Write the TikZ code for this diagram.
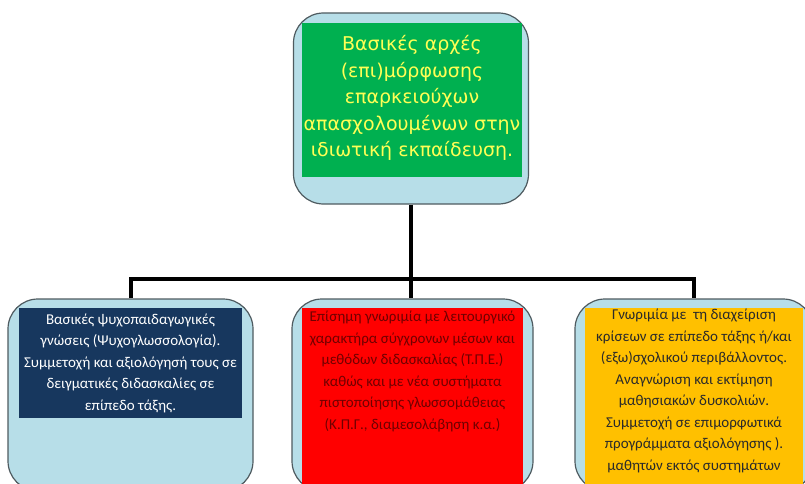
\documentclass[tikz,border=0pt]{standalone}
\usepackage{fontspec}
\setmainfont{Carlito}
\newfontfamily\topfont{DejaVu Sans}
\definecolor{outerfill}{HTML}{B7DEE8}
\definecolor{outerline}{HTML}{4F5B60}
\definecolor{topgreen}{HTML}{00B050}
\definecolor{topyellow}{HTML}{FFFF55}
\definecolor{navy}{HTML}{17375E}
\definecolor{boxred}{HTML}{FF0000}
\definecolor{darkredtext}{HTML}{700000}
\definecolor{boxorange}{HTML}{FFC000}
\definecolor{darktext}{HTML}{2A2A2A}
\tikzset{
  outerbox/.style={draw=outerline, line width=1.2pt, fill=outerfill, rounded corners=30pt, inner sep=0pt},
  innerbox/.style={inner sep=0pt},
  conn/.style={line width=4pt, black},
  childtext/.style={align=center, inner sep=0pt, font=\fontsize{15}{21.5}\selectfont},
}
\begin{document}
\begin{tikzpicture}[x=1pt,y=-1pt]
\useasboundingbox (0,0) rectangle (805,484);
\clip (0,0) rectangle (805,484);
% top
\node[outerbox, minimum width=235pt, minimum height=191pt] (top) at (411,108.5) {};
\node[innerbox, fill=topgreen, minimum width=220pt, minimum height=154pt] (topin) at (412,100) {};
\node[align=center, inner sep=0pt, text=topyellow, font=\topfont\fontsize{19}{26.5}\selectfont] (toptext) at (412,98)
  {Βασικές αρχές\\(επι)μόρφωσης\\επαρκειούχων\\απασχολουμένων στην\\ιδιωτική εκπαίδευση.};
% children
\node[outerbox, minimum width=245pt, minimum height=192pt] (left) at (130.5,395) {};
\node[outerbox, minimum width=241pt, minimum height=192pt] (mid) at (412.5,395) {};
\node[outerbox, minimum width=238pt, minimum height=192pt] (right) at (694,395) {};
\node[innerbox, fill=navy, minimum width=223pt, minimum height=110pt] (leftin) at (130.5,363) {};
\node[innerbox, fill=boxred, minimum width=221pt, minimum height=180pt] (midin) at (412.5,398) {};
\node[innerbox, fill=boxorange, minimum width=218pt, minimum height=180pt] (rightin) at (694,398) {};
\node[childtext, text=white] (lefttext) at (130.5,363)
  {Βασικές ψυχοπαιδαγωγικές\\γνώσεις (Ψυχογλωσσολογία).\\Συμμετοχή και αξιολόγησή τους σε\\δειγματικές διδασκαλίες σε\\επίπεδο τάξης.};
\node[childtext, text=darkredtext, anchor=north] (midtext) at (412.5,311)
  {Επίσημη γνωριμία με λειτουργικό\\χαρακτήρα σύγχρονων μέσων και\\μεθόδων διδασκαλίας (Τ.Π.Ε.)\\καθώς και με νέα συστήματα\\πιστοποίησης γλωσσομάθειας\\(Κ.Π.Γ., διαμεσολάβηση κ.α.)};
\node[childtext, text=darktext, anchor=north] (righttext) at (694,309)
  {Γνωριμία με \ τη διαχείριση\\κρίσεων σε επίπεδο τάξης ή/και\\(εξω)σχολικού περιβάλλοντος.\\Αναγνώριση και εκτίμηση\\μαθησιακών δυσκολιών.\\Συμμετοχή σε επιμορφωτικά\\προγράμματα αξιολόγησης ).\\μαθητών εκτός συστημάτων};
% connectors
\coordinate (bus) at (411,279);
\draw[conn] (top.south) -- (bus);
\draw[conn] (left.north) |- (bus) -| (right.north);
\draw[conn] (bus) -- (mid.north -| bus);
\end{tikzpicture}
\end{document}
